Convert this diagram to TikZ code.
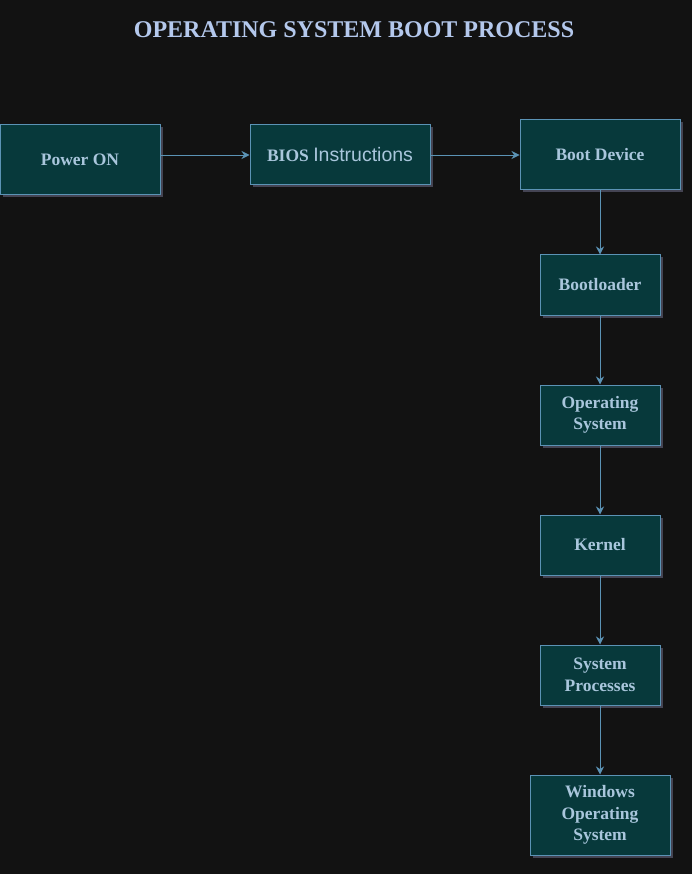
\documentclass[tikz,border=0pt]{standalone}
\usepackage{fontspec}
\setmainfont{Liberation Serif}
\newfontfamily\arialFont{Liberation Sans}
\usetikzlibrary{arrows.meta,shadows}

\definecolor{bgColor}{HTML}{121212}
\definecolor{boxFill}{HTML}{07393B}
\definecolor{boxLine}{HTML}{5B93B5}
\definecolor{boxText}{HTML}{A9C6DC}
\definecolor{titleText}{HTML}{B4C8EC}
\definecolor{glowColor}{HTML}{6E6E8A}

\begin{document}
\begin{tikzpicture}[x=1pt,y=-1pt,
		bootBox/.style={draw=boxLine, line width=1pt, fill=boxFill, text=boxText,
			font=\fontsize{17.5}{21.5}\selectfont\bfseries, align=center, inner sep=0pt,
			drop shadow={shadow xshift=2.5pt, shadow yshift=-2.5pt, fill=glowColor, opacity=0.55}},
		bootArrow/.style={draw=boxLine, line width=0.9pt, -{Stealth[length=8pt,width=8pt]}}]
		% Page and background
		\useasboundingbox[fill=bgColor] (0,0) rectangle (692,874);
		\node[text=titleText, font=\fontsize{24}{28}\selectfont\bfseries] (title) at (354,30) {OPERATING SYSTEM BOOT PROCESS};
		
		% Top row (left to right)
		\node[bootBox, minimum width=160pt, minimum height=70pt] (powerOn) at (80,160) {Power ON};
		\node[bootBox, minimum width=180pt, minimum height=60pt] (bios) at (340,155) {BIOS {\arialFont\mdseries\fontsize{19.5}{22}\selectfont Instructions}};
		\node[bootBox, minimum width=160pt, minimum height=70pt] (bootDevice) at (600,155) {Boot Device};
		
		% Right column (top to bottom)
		\foreach \name/\yPos/\label in {bootloader/285/Bootloader, osNode/415/{Operating\\System}, kernel/545/Kernel, sysProc/675/{System\\Processes}}{
			\node[bootBox, minimum width=120pt, minimum height=60pt] (\name) at (600,\yPos) {\label};
		}
		\node[bootBox, minimum width=140pt, minimum height=80pt] (winOs) at (600,815) {Windows\\Operating\\System};
		
		% Connectors
		\draw[bootArrow] (powerOn.east |- bios.west) -- (bios.west);
		\draw[bootArrow] (bios.east) -- (bootDevice.west |- bios.east);
		\draw[bootArrow] (bootDevice.south) -- (bootloader.north);
		\draw[bootArrow] (bootloader.south) -- (osNode.north);
		\draw[bootArrow] (osNode.south) -- (kernel.north);
		\draw[bootArrow] (kernel.south) -- (sysProc.north);
		\draw[bootArrow] (sysProc.south) -- (winOs.north);
	\end{tikzpicture}
\end{document}
